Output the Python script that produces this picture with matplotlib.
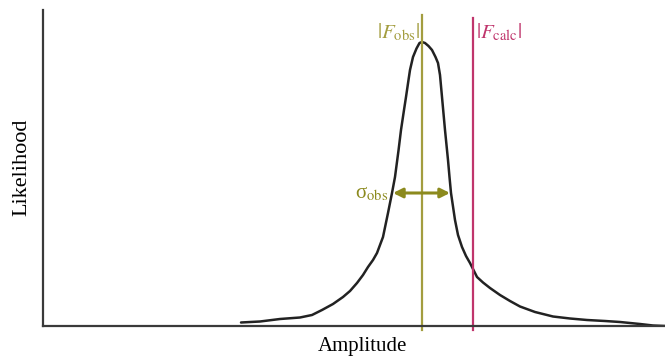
import matplotlib
matplotlib.use("Agg")
import matplotlib.pyplot as plt

plt.rcParams['font.family'] = ['Liberation Serif', 'DejaVu Serif']
plt.rcParams['mathtext.fontset'] = 'stix'

# Amplitude (arbitrary units) and likelihood values
amplitude = [241, 260, 280, 300, 312, 322, 333, 343, 350, 357, 363, 368, 373, 377,
             380, 383, 388, 392, 395, 398.5, 401, 404, 406, 408.5, 410, 413, 416.5,
             419.5, 422, 425, 428.5, 432, 435.5, 438, 440, 442, 445, 448, 449.5,
             451, 455, 458, 462, 466, 470, 473.5, 477, 483, 490, 500, 510, 520, 535,
             553, 570, 587, 605, 620, 640, 653, 665]
likelihood = [3.5, 4.5, 7, 8.5, 11, 16, 22, 29, 35, 43, 51, 59, 66, 73,
              81, 89, 113, 133, 149, 175.5, 196, 216, 229, 246, 256, 269, 277.5,
              283, 284, 283, 280, 276, 269, 263, 251, 229, 196, 166, 149,
              133, 106, 91, 79, 70, 63, 56, 49, 43.5, 38, 31, 25, 19.5, 14,
              9.5, 7.5, 6, 5, 4, 2, 0.5, 0]
f_obs = 422
f_calc = 472.5
sigma_left = 393
sigma_right = 450
sigma_level = 133

fig = plt.figure(figsize=(6.65, 3.58), dpi=100)
ax = fig.add_axes([43/665, 32/358, 1 - 43/665, (326 - 10)/358])
ax.set_xlim(43, 665)
ax.set_ylim(0, 316)

ax.plot(amplitude, likelihood, color='#222222', lw=1.8, solid_capstyle='round',
        solid_joinstyle='round')

olive = '#a39d3f'
crimson = '#c0356c'
ax.plot([f_obs, f_obs], [-4, 311], color=olive, lw=1.6, clip_on=False)
ax.plot([f_calc, f_calc], [-4, 308], color=crimson, lw=1.6, clip_on=False)

ax.annotate('', xy=(sigma_left, sigma_level), xytext=(sigma_right, sigma_level),
            arrowprops=dict(arrowstyle='<|-|>', color='#8c8a1e', lw=2.2,
                            mutation_scale=14, shrinkA=0, shrinkB=0))
ax.text(sigma_left - 5, sigma_level - 1, 'σ$_{\\mathrm{obs}}$', color='#8c8a1e',
        fontsize=15, ha='right', va='center')

ax.text(f_obs - 2, 294, r'$|F_{\mathrm{obs}}|$', color=olive, fontsize=15,
        ha='right', va='center')
ax.text(f_calc + 3, 294, r'$|F_{\mathrm{calc}}|$', color=crimson, fontsize=15,
        ha='left', va='center')

for s in ['top', 'right']:
    ax.spines[s].set_visible(False)
for s in ['left', 'bottom']:
    ax.spines[s].set_color('#3a3a3a')
    ax.spines[s].set_linewidth(1.6)
ax.set_xticks([])
ax.set_yticks([])
ax.set_xlabel('Amplitude', fontsize=15)
ax.set_ylabel('Likelihood', fontsize=16)
ax.xaxis.set_label_coords((362 - 43) / 622, -(346 - 326) / 316)
ax.yaxis.set_label_coords(-(43 - 22) / 622, (326 - 167) / 316)
ax.xaxis.label.set_va('center')
ax.yaxis.label.set_va('center')

fig.savefig('out.png', dpi=100)
